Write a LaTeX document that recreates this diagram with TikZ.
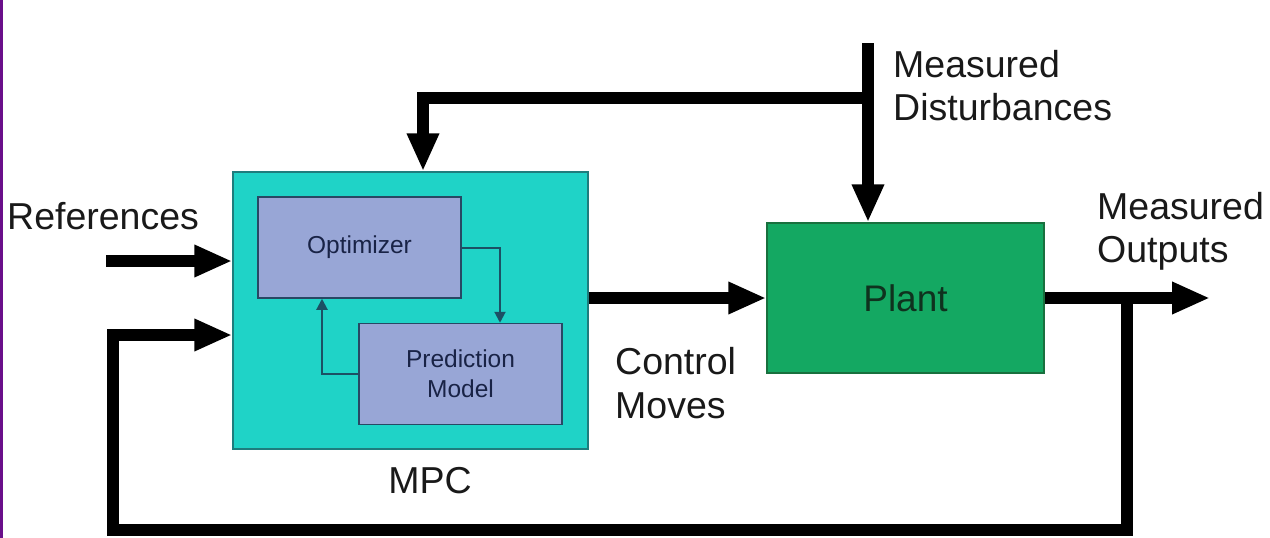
\documentclass[tikz,border=0pt]{standalone}
\usepackage{fontspec}
\setmainfont{Liberation Sans}
\usetikzlibrary{arrows.meta}

\definecolor{edgepurple}{RGB}{106,15,138}
\definecolor{mpccyan}{RGB}{31,211,199}
\definecolor{mpcdraw}{RGB}{30,125,125}
\definecolor{innerfill}{RGB}{152,166,214}
\definecolor{innerdraw}{RGB}{40,72,100}
\definecolor{innertext}{RGB}{25,35,70}
\definecolor{plantgreen}{RGB}{20,168,98}
\definecolor{plantdraw}{RGB}{25,112,62}
\definecolor{planttext}{RGB}{15,50,30}
\definecolor{thincol}{RGB}{28,80,100}

\tikzset{
  bigarrow/.style={line width=12pt, -{Triangle[length=38pt, width=30pt]}},
  thinarrow/.style={draw=thincol, line width=2pt, -{Triangle[length=11pt, width=11pt]}},
  innerbox/.style={draw=innerdraw, fill=innerfill, line width=1.5pt, minimum width=203pt, minimum height=101pt,
    inner sep=0pt, align=center, text=innertext, font=\fontsize{24.5}{30}\selectfont},
  lbl/.style={inner sep=0pt, align=left, text=black!90, font=\fontsize{37.5}{43.5}\selectfont},
}

\begin{document}
\begin{tikzpicture}[x=1pt, y=-1pt]
\useasboundingbox (0,0) rectangle (1270,538);
\fill[edgepurple] (0,0) rectangle (3,538);

% blocks
\node[draw=mpcdraw, fill=mpccyan, line width=1.5pt, minimum width=355pt, minimum height=277pt] (mpc) at (410.5,310.5) {};
\node[innerbox] (opt) at (359.5,247.5) {Optimizer};
\node[innerbox] (pred) at (460.5,374) {Prediction\\Model};
\node[draw=plantdraw, fill=plantgreen, line width=1.5pt, minimum width=277pt, minimum height=150pt,
  text=planttext, font=\fontsize{37}{44}\selectfont] (plant) at (905.5,298) {Plant};

% labels
\node[lbl, anchor=base west] (refs) at (7,229) {References};
\node[lbl, anchor=north west] (dist) at (893,50) {Measured\\Disturbances};
\node[lbl, anchor=north west] (outs) at (1097,192) {Measured\\Outputs};
\node[lbl, anchor=north west] (moves) at (615,347.5) {Control\\Moves};
\node[lbl, anchor=base] (mpclbl) at (430,493) {MPC};

% signal points
\coordinate (refin) at (106,261);
\coordinate (dtop) at (868,43);
\coordinate (dbranch) at (868,98);
\coordinate (mpcin) at (423,0 |- mpc.north);
\coordinate (outend) at (1210,298);
\coordinate (tap) at (1127,298);
\coordinate (fbleft) at (113,530);
\coordinate (fbin) at (mpc.west |- 0,335);

% signals
\draw[bigarrow] (refin) -- (refin -| mpc.west);
\draw[bigarrow] (tap) |- (fbleft) |- (fbin);
\draw[bigarrow] (mpc.east |- plant.west) -- (plant.west);
\draw[bigarrow] (plant.east) -- (outend);
\draw[bigarrow] (dtop) -- (dtop |- plant.north);
\draw[bigarrow] (dbranch) -| (mpcin);

% inner loop
\draw[thinarrow] (opt.east) -| (pred.north -| 500,0);
\draw[thinarrow] (pred.west) -| (opt.south -| 322,0);

\end{tikzpicture}
\end{document}
